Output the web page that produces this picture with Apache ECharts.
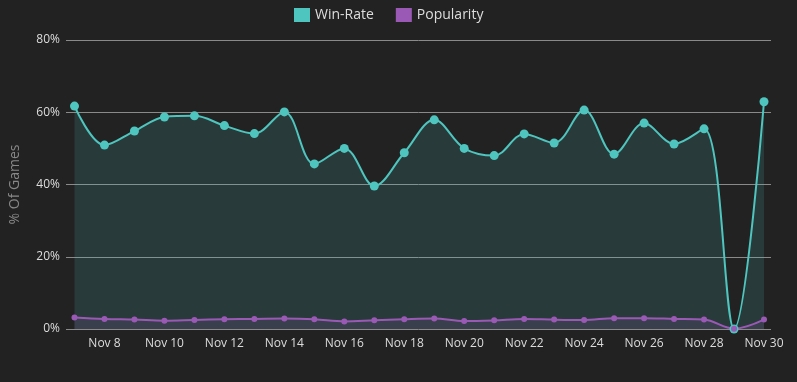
<!DOCTYPE html>
<html>
<head>
<meta charset="utf-8">
<script src="https://cdn.jsdelivr.net/npm/echarts@6/dist/echarts.min.js"></script>
<style>
html,body{margin:0;padding:0;background:#222222;}
#chart{width:797px;height:382px;}
</style>
</head>
<body>
<div id="chart"></div>
<script>
const categories = ['Nov 7','Nov 8','Nov 9','Nov 10','Nov 11','Nov 12','Nov 13','Nov 14','Nov 15','Nov 16','Nov 17','Nov 18','Nov 19','Nov 20','Nov 21','Nov 22','Nov 23','Nov 24','Nov 25','Nov 26','Nov 27','Nov 28','Nov 29','Nov 30'];
const winRate = [61.7,50.9,54.8,58.7,59.0,56.3,54.1,60.1,45.7,50.0,39.6,48.8,57.9,50.0,48.0,54.0,51.5,60.6,48.4,57.0,51.2,55.4,0,62.9];
const popularity = [3.2,2.8,2.6,2.3,2.5,2.7,2.8,2.9,2.7,2.1,2.4,2.7,2.9,2.2,2.4,2.8,2.6,2.5,3.0,3.0,2.8,2.6,0.1,2.6];
const yTicks = {min:0, max:80, interval:20};

const font = '"Open Sans", "Noto Sans", sans-serif';
const chart = echarts.init(document.getElementById('chart'), null, {renderer:'canvas'});
chart.setOption({
  backgroundColor:'#222222',
  animation:false,
  textStyle:{fontFamily:font},
  legend:{
    top:3, left:289,
    icon:'rect', itemWidth:16, itemHeight:14, itemGap:22,
    textStyle:{color:'#dddddd', fontSize:14, fontFamily:font},
    data:['Win-Rate','Popularity']
  },
  grid:[
    {left:58, right:26, top:40, bottom:53, containLabel:false},
    {left:74.5, right:33, top:40, bottom:53, containLabel:false}
  ],
  xAxis:[
    {type:'value', gridIndex:0, show:false, min:0, max:1},
    {type:'category', gridIndex:1, data:categories, boundaryGap:false,
     axisLine:{show:false}, axisTick:{show:false},
     axisLabel:{color:'#dddddd', fontSize:12, fontFamily:font, margin:9,
       interval:function(i){return i%2===1;}},
     splitLine:{show:false}}
  ],
  yAxis:[
    {type:'value', gridIndex:0, min:yTicks.min, max:yTicks.max, interval:yTicks.interval,
     name:'% Of Games', nameLocation:'middle', nameGap:44, nameRotate:90,
     nameTextStyle:{color:'#888888', fontSize:14, fontFamily:font},
     axisLine:{show:false}, axisTick:{show:false},
     axisLabel:{color:'#dddddd', fontSize:12, fontFamily:font, margin:6, formatter:'{value}%'},
     splitLine:{show:true, lineStyle:{color:'#8a8a8a', width:1}}},
    {type:'value', gridIndex:1, min:yTicks.min, max:yTicks.max, interval:yTicks.interval,
     show:false, splitLine:{show:false}}
  ],
  series:[
    {name:'Win-Rate', type:'line', xAxisIndex:1, yAxisIndex:1, data:winRate,
     smooth:0.35, symbol:'circle', symbolSize:9, showAllSymbol:true,
     itemStyle:{color:'#4ec5be'},
     lineStyle:{color:'#4ec5be', width:2},
     areaStyle:{color:'rgba(78,197,190,0.22)'}},
    {name:'Popularity', type:'line', xAxisIndex:1, yAxisIndex:1, data:popularity,
     smooth:0.35, symbol:'circle', symbolSize:6, showAllSymbol:true,
     itemStyle:{color:'#9b59b6'},
     lineStyle:{color:'#9b59b6', width:2},
     areaStyle:{color:'rgba(155,89,182,0.22)'}}
  ]
});
</script>
</body>
</html>
